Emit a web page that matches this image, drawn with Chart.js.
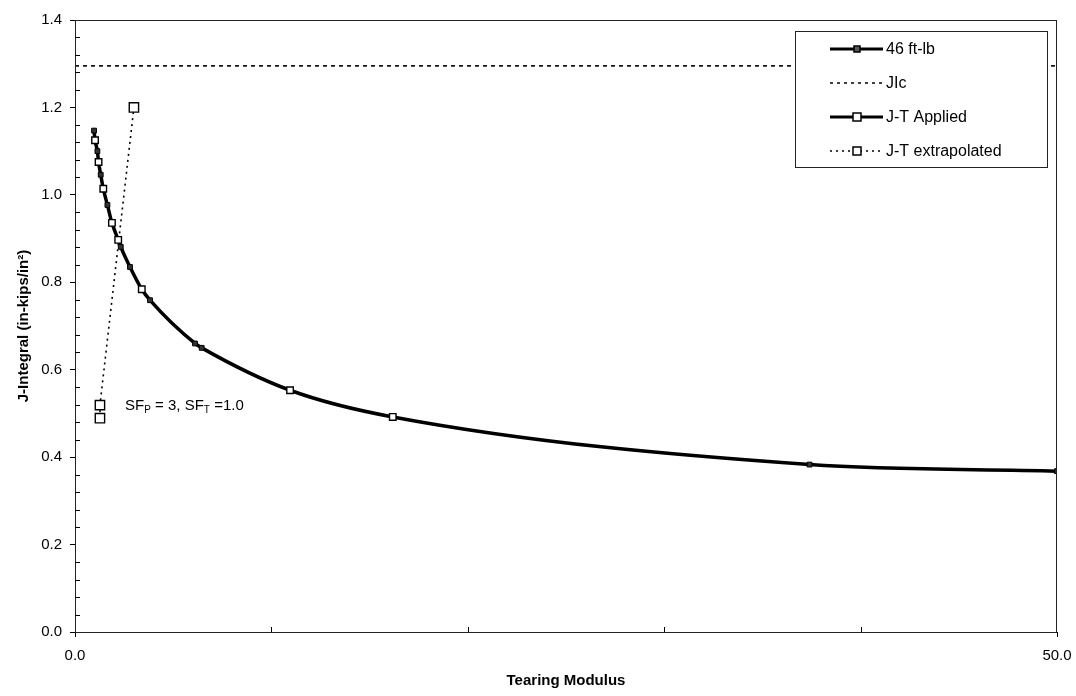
<!DOCTYPE html>
<html>
<head>
<meta charset="utf-8">
<title>J-T Diagram</title>
<script src="https://cdn.jsdelivr.net/npm/chart.js@4.4.1/dist/chart.umd.min.js"></script>
<style>
  html, body { margin: 0; padding: 0; background: #fff; }
  #wrap { width: 1076px; height: 696px; }
</style>
</head>
<body>
<div id="wrap"><canvas id="jt" width="1076" height="696"></canvas></div>
<script>
// J-T curve for the 46 ft-lb material (tearing modulus vs J-integral)
const materialT = [0.97, 1.02, 1.14, 1.20, 1.31, 1.44, 1.65, 1.88, 2.20, 2.33, 2.80, 3.40, 3.82, 6.11, 6.45, 10.95, 16.18, 37.4, 50.0];
const materialJ = [1.147, 1.125, 1.100, 1.075, 1.046, 1.014, 0.977, 0.936, 0.897, 0.881, 0.835, 0.784, 0.759, 0.660, 0.650, 0.553, 0.492, 0.383, 0.368];

// Applied J-T points lying on the curve
const appliedT = [1.02, 1.20, 1.44, 1.88, 2.20, 3.40, 10.95, 16.18];
const appliedJ = [1.125, 1.075, 1.014, 0.936, 0.897, 0.784, 0.553, 0.492];

// Extrapolated applied J-T line
const extrapT = [1.27, 1.27, 3.00];
const extrapJ = [0.489, 0.519, 1.200];

// JIc level
const jicT = [0, 50];
const jicJ = [1.295, 1.295];

// Axis ticks
const xTickValues = [0, 50];
const yTickValues = [0, 0.2, 0.4, 0.6, 0.8, 1.0, 1.2, 1.4];

const seriesLabels = ['46 ft-lb', 'JIc', 'J-T Applied', 'J-T extrapolated'];

const FONT = "'Liberation Sans', Arial, Helvetica, sans-serif";
const pts = (xs, ys) => xs.map((x, i) => ({ x: x, y: ys[i] }));

// Minor ticks, plot frame, in-plot legend and safety-factor note
const decorations = {
  id: 'decorations',
  afterDatasetsDraw(chart) {
    const { ctx, chartArea: a, scales: { x, y } } = chart;
    ctx.save();

    // plot frame
    ctx.strokeStyle = '#222';
    ctx.lineWidth = 1;
    ctx.strokeRect(Math.round(a.left) + 0.5, Math.round(a.top) + 0.5,
                   Math.round(a.right - a.left) - 1, Math.round(a.bottom - a.top));

    // minor ticks, pointing into the plot
    ctx.strokeStyle = '#000';
    ctx.beginPath();
    for (let i = 1; i < 35; i++) {
      if (i % 5 === 0) continue;
      const py = Math.round(y.getPixelForValue(i * 0.04)) + 0.5;
      ctx.moveTo(a.left, py);
      ctx.lineTo(a.left + 5, py);
    }
    for (let v = 10; v < 50; v += 10) {
      const px = Math.round(x.getPixelForValue(v)) + 0.5;
      ctx.moveTo(px, a.bottom);
      ctx.lineTo(px, a.bottom - 5);
    }
    ctx.stroke();

    // safety-factor note
    ctx.fillStyle = '#000';
    ctx.textBaseline = 'alphabetic';
    ctx.textAlign = 'left';
    let tx = x.getPixelForValue(2.55);
    const ty = y.getPixelForValue(0.519) + 5;
    const parts = [['SF', 15, 0], ['P', 10, 3], [' = 3, SF', 15, 0], ['T', 10, 3], [' =1.0', 15, 0]];
    parts.forEach(([s, size, dy]) => {
      ctx.font = size + 'px ' + FONT;
      ctx.fillText(s, tx, ty + dy);
      tx += ctx.measureText(s).width;
    });

    // legend box
    const bx = 795.5, by = 31.5, bw = 252, bh = 136;
    ctx.fillStyle = '#fff';
    ctx.fillRect(bx, by, bw, bh);
    ctx.strokeStyle = '#222';
    ctx.lineWidth = 1;
    ctx.strokeRect(bx, by, bw, bh);

    const ds = chart.data.datasets;
    const rows = [49, 83, 117, 151];
    const x0 = 830, x1 = 883, xm = 857;
    ds.forEach((d, i) => {
      const ry = rows[i];
      ctx.save();
      ctx.strokeStyle = d.borderColor;
      ctx.lineWidth = d.legendLineWidth;
      ctx.setLineDash(d.legendDash || []);
      ctx.beginPath();
      ctx.moveTo(x0, ry);
      ctx.lineTo(x1, ry);
      ctx.stroke();
      ctx.restore();
      if (d.legendMarker) {
        const m = d.legendMarker;
        ctx.fillStyle = m.fill;
        ctx.strokeStyle = '#000';
        ctx.lineWidth = m.lw;
        ctx.fillRect(xm - m.s / 2, ry - m.s / 2, m.s, m.s);
        ctx.strokeRect(xm - m.s / 2, ry - m.s / 2, m.s, m.s);
      }
      ctx.fillStyle = '#000';
      ctx.font = '16px ' + FONT;
      ctx.textBaseline = 'middle';
      ctx.fillText(d.label, 886, ry + 1);
    });
    ctx.restore();
  }
};

new Chart(document.getElementById('jt'), {
  type: 'scatter',
  data: {
    datasets: [
      {
        label: seriesLabels[0],
        data: pts(materialT, materialJ),
        showLine: true,
        cubicInterpolationMode: 'monotone',
        borderColor: '#000',
        borderWidth: 3.5,
        pointStyle: 'rect',
        pointRadius: 3.4,
        pointBackgroundColor: '#333',
        pointBorderColor: '#000',
        pointBorderWidth: 1,
        order: 1,
        legendLineWidth: 3,
        legendMarker: { s: 6, fill: '#555', lw: 1.5 }
      },
      {
        label: seriesLabels[1],
        data: pts(jicT, jicJ),
        showLine: true,
        borderColor: '#000',
        borderWidth: 1.6,
        borderDash: [4, 4],
        pointRadius: 0,
        order: 3,
        legendLineWidth: 1.4,
        legendDash: [3, 4]
      },
      {
        label: seriesLabels[2],
        data: pts(appliedT, appliedJ),
        showLine: false,
        borderColor: '#000',
        pointStyle: 'rect',
        pointRadius: 4.6,
        pointBackgroundColor: '#fff',
        pointBorderColor: '#000',
        pointBorderWidth: 1.4,
        order: 0,
        legendLineWidth: 3,
        legendMarker: { s: 8, fill: '#fff', lw: 1.5 }
      },
      {
        label: seriesLabels[3],
        data: pts(extrapT, extrapJ),
        showLine: true,
        tension: 0,
        borderColor: '#000',
        borderWidth: 1.6,
        borderDash: [2, 4],
        pointStyle: 'rect',
        pointRadius: 6.6,
        pointBackgroundColor: '#fff',
        pointBorderColor: '#000',
        pointBorderWidth: 1.4,
        order: 2,
        legendLineWidth: 1.4,
        legendDash: [2, 4],
        legendMarker: { s: 8, fill: '#fff', lw: 1.5 }
      }
    ]
  },
  options: {
    responsive: false,
    animation: false,
    devicePixelRatio: 1,
    layout: { padding: { top: 20, right: 19, left: 0, bottom: 0 } },
    plugins: { legend: { display: false }, tooltip: { enabled: false } },
    scales: {
      x: {
        type: 'linear',
        min: 0,
        max: 50,
        afterFit: s => { s.height = 64; s.paddingLeft = 0; s.paddingRight = 0; },
        afterBuildTicks: s => { s.ticks = xTickValues.map(v => ({ value: v })); },
        ticks: {
          callback: v => Number(v).toFixed(1),
          color: '#000',
          font: { family: FONT, size: 15 },
          padding: 10,
          maxRotation: 0,
          autoSkip: false
        },
        grid: { drawOnChartArea: false, drawTicks: true, tickLength: 5, color: '#000' },
        border: { display: true, color: '#000', width: 1 },
        title: {
          display: true,
          text: 'Tearing Modulus',
          color: '#000',
          font: { family: FONT, size: 15, weight: 'bold' },
          padding: { top: 0, bottom: 6 }
        }
      },
      y: {
        type: 'linear',
        min: 0,
        max: 1.4,
        afterFit: s => { s.width = 75; s.paddingTop = 0; s.paddingBottom = 0; },
        afterBuildTicks: s => { s.ticks = yTickValues.map(v => ({ value: v })); },
        ticks: {
          callback: v => Number(v).toFixed(1),
          color: '#000',
          font: { family: FONT, size: 15 },
          padding: 8
        },
        grid: { drawOnChartArea: false, drawTicks: true, tickLength: 5, color: '#000' },
        border: { display: true, color: '#000', width: 1 },
        title: {
          display: true,
          text: 'J-Integral (in-kips/in²)',
          color: '#000',
          font: { family: FONT, size: 15, weight: 'bold' },
          padding: { top: 15, bottom: 0 }
        }
      }
    }
  },
  plugins: [decorations]
});
</script>
</body>
</html>
